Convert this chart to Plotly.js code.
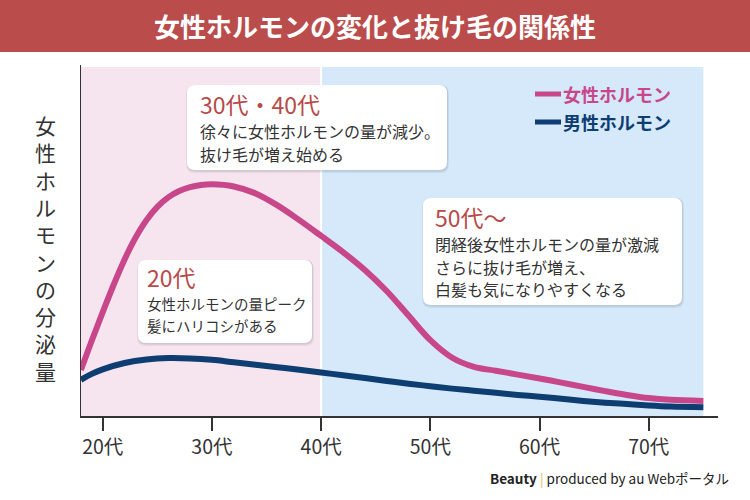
<!DOCTYPE html>
<html>
<head>
<meta charset="utf-8">
<script src="https://cdn.plot.ly/plotly-3.0.1.min.js"></script>
<style>html,body{margin:0;padding:0;background:#fff;}#chart{width:750px;height:500px;}</style>
</head>
<body>
<div id="chart"></div>
<script>
// ---- data ----
const chartTitle = "女性ホルモンの変化と抜け毛の関係性";
const yTitle = "女性ホルモンの分泌量";
const tickVals = [20, 30, 40, 50, 60, 70];
const tickLabels = ["20代", "30代", "40代", "50代", "60代", "70代"];
const seriesNames = ["女性ホルモン", "男性ホルモン"];
const femaleAges = [18,19,20,21,22,23,24,25,26,27,28,29,30,32,34,36,38,40,42,44,46,48,50,52,54,56,58,60,62,64,66,68,70,72,75];
const femaleLevel = [13.1,21.5,29.6,37.4,44.6,50.8,55.8,59.6,62.3,64.1,65.2,65.8,66.0,65.4,63.4,60.0,55.8,51.3,46.7,41.6,35.6,28.6,21.6,16.6,14.0,12.9,11.8,10.7,9.5,8.3,7.1,6.0,5.1,4.6,4.3];
const maleAges = [18,19,20,22,24,26,28,30,32,34,36,38,40,42,44,46,48,50,52,54,56,58,60,62,64,66,68,70,72,75];
const maleLevel = [10.3,12.0,13.3,15.1,16.1,16.5,16.4,16.0,15.3,14.6,13.9,13.2,12.4,11.6,10.8,10.0,9.2,8.5,7.8,7.2,6.6,6.0,5.5,4.9,4.3,3.8,3.4,3.0,2.7,2.5];
const phaseStart = [18, 40];
const phaseEnd = [40, 75];
const note30Title = "30代・40代";
const note30Lines = ["徐々に女性ホルモンの量が減少。", "抜け毛が増え始める"];
const note50Title = "50代～";
const note50Lines = ["閉経後女性ホルモンの量が激減", "さらに抜け毛が増え、", "白髪も気になりやすくなる"];
const note20Title = "20代";
const note20Lines = ["女性ホルモンの量ピーク", "髪にハリコシがある"];
const footerText = "<b>Beauty</b> <span style='color:#e6c25c'>|</span> produced by au Webポータル";

// ---- layout helpers (pixel -> paper) ----
const L = 81, R = 718, T = 65, B = 416;
const W = R - L, H = B - T;
const X = px => (px - L) / W;
const Y = py => (B - py) / H;
const FONT = "'Noto Sans CJK JP', 'Noto Sans', sans-serif";
const PINK = "#c8478a", NAVY = "#0e3d72", RED = "#b84a4a", TXT = "#333333";

function rrect(x0, y0, x1, y1, r) {
  const p = (x, y) => X(x) + "," + Y(y);
  return "M" + p(x0 + r, y0) + " L" + p(x1 - r, y0) + " Q" + p(x1, y0) + " " + p(x1, y0 + r) +
    " L" + p(x1, y1 - r) + " Q" + p(x1, y1) + " " + p(x1 - r, y1) +
    " L" + p(x0 + r, y1) + " Q" + p(x0, y1) + " " + p(x0, y1 - r) +
    " L" + p(x0, y0 + r) + " Q" + p(x0, y0) + " " + p(x0 + r, y0) + " Z";
}

const shapes = [];
const annotations = [];

// phase backgrounds
const phaseColors = ["#f6e5ef", "#d5e9fb"];
phaseStart.forEach((s, i) => {
  shapes.push({type: "rect", xref: "x", yref: "paper", x0: s, x1: phaseEnd[i], y0: 0, y1: Y(67),
    fillcolor: phaseColors[i], line: {width: 0}, layer: "below"});
});
shapes.push({type: "line", xref: "x", yref: "paper", x0: phaseStart[1], x1: phaseStart[1], y0: 0, y1: Y(67),
  line: {color: "#ffffff", width: 2}, layer: "below"});

// title banner
shapes.push({type: "rect", xref: "paper", yref: "paper", x0: X(0), x1: X(750), y0: Y(52), y1: Y(0),
  fillcolor: "#bb4c4c", line: {width: 0}});
annotations.push({xref: "paper", yref: "paper", x: X(375), y: Y(26), text: "<b>" + chartTitle + "</b>",
  showarrow: false, xanchor: "center", yanchor: "middle", font: {family: FONT, size: 26, color: "#ffffff"}});

// note boxes
function noteBox(x0, y0, x1, y1, title, lines, tx, ty, lineYs, bodySize) {
  shapes.push({type: "path", xref: "paper", yref: "paper", path: rrect(x0 - 1, y0, x1 + 2, y1 + 3, 9),
    fillcolor: "rgba(0,0,0,0.06)", line: {width: 0}});
  shapes.push({type: "path", xref: "paper", yref: "paper", path: rrect(x0, y0, x1 + 1, y1 + 1.5, 8),
    fillcolor: "rgba(0,0,0,0.08)", line: {width: 0}});
  shapes.push({type: "path", xref: "paper", yref: "paper", path: rrect(x0, y0, x1, y1, 8),
    fillcolor: "#ffffff", line: {width: 0}});
  annotations.push({xref: "paper", yref: "paper", x: X(tx), y: Y(ty), text: title, showarrow: false,
    xanchor: "left", yanchor: "middle", borderpad: 0, font: {family: FONT, size: 23, color: RED}});
  lines.forEach((t, i) => {
    annotations.push({xref: "paper", yref: "paper", x: X(tx), y: Y(lineYs[i]), text: t, showarrow: false,
      xanchor: "left", yanchor: "middle", borderpad: 0, font: {family: FONT, size: bodySize, color: TXT}});
  });
}
noteBox(187, 85, 447, 170, note30Title, note30Lines, 199, 104, [131, 153.5], 16);
noteBox(423, 198, 682, 305, note50Title, note50Lines, 434, 217, [244, 266.5, 289], 16);
noteBox(138, 260, 312, 343, note20Title, note20Lines, 146, 277, [303, 325.5], 14.5);

// custom legend
const legendColors = [PINK, NAVY];
const legendYs = [94, 122];
seriesNames.forEach((n, i) => {
  shapes.push({type: "line", xref: "paper", yref: "paper", x0: X(535), x1: X(561), y0: Y(legendYs[i]), y1: Y(legendYs[i]),
    line: {color: legendColors[i], width: 5}});
  annotations.push({xref: "paper", yref: "paper", x: X(561), y: Y(legendYs[i]), text: "<b>" + n + "</b>",
    showarrow: false, xanchor: "left", yanchor: "middle", font: {family: FONT, size: 18, color: legendColors[i]}});
});

// vertical y title, one character per line (single text block)
annotations.push({xref: "paper", yref: "paper", x: X(45), y: Y(247.5), text: Array.from(yTitle).join("<br>"),
  showarrow: false, xanchor: "center", yanchor: "middle", align: "center",
  font: {family: FONT, size: 21, color: TXT}});

// footer
annotations.push({xref: "paper", yref: "paper", x: X(731), y: Y(478), text: footerText, showarrow: false,
  xanchor: "right", yanchor: "middle", font: {family: FONT, size: 13.5, color: "#222222"}});

const traces = [
  {x: maleAges, y: maleLevel, name: seriesNames[1], type: "scatter", mode: "lines",
   line: {color: NAVY, width: 6, shape: "spline", smoothing: 1}, hoverinfo: "skip"},
  {x: femaleAges, y: femaleLevel, name: seriesNames[0], type: "scatter", mode: "lines",
   line: {color: PINK, width: 6, shape: "spline", smoothing: 1}, hoverinfo: "skip"}
];

const layout = {
  width: 750, height: 500,
  margin: {l: L, r: 750 - R, t: T, b: 500 - B, pad: 0},
  paper_bgcolor: "#ffffff", plot_bgcolor: "#ffffff",
  showlegend: false,
  font: {family: FONT, color: TXT},
  xaxis: {range: [18.01, 76.34], tickvals: tickVals, ticktext: tickLabels, ticks: "outside",
    ticklen: 13, tickwidth: 2, tickcolor: TXT, showline: true, linecolor: TXT, linewidth: 2,
    showgrid: false, zeroline: false, tickfont: {family: FONT, size: 19.5, color: TXT}, fixedrange: true},
  yaxis: {range: [0, 100], showline: true, linecolor: TXT, linewidth: 1.5, showticklabels: false,
    ticks: "", showgrid: false, zeroline: false, fixedrange: true},
  shapes: shapes,
  annotations: annotations
};

Plotly.newPlot("chart", traces, layout, {staticPlot: true, displayModeBar: false});
</script>
</body>
</html>
